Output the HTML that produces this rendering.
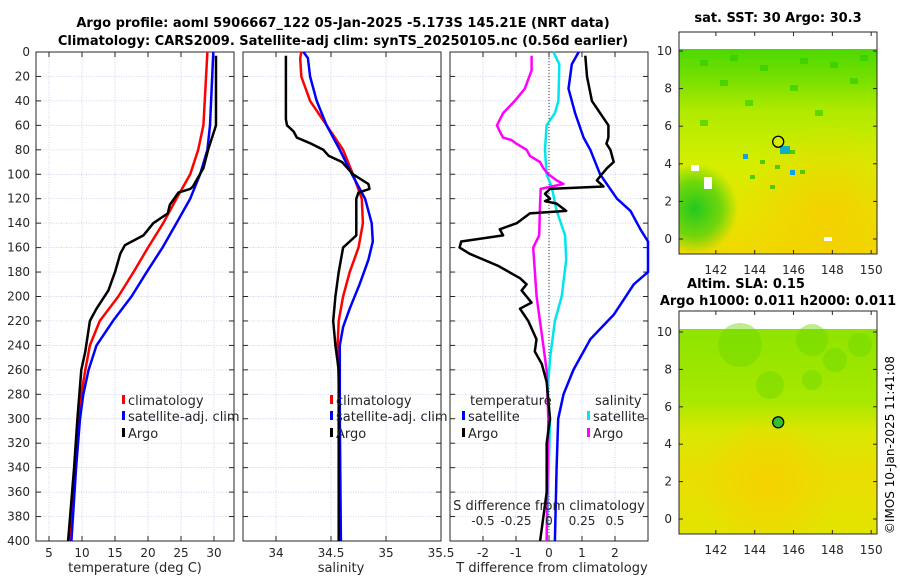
<!DOCTYPE html>
<html><head><meta charset="utf-8">
<style>
html,body{margin:0;padding:0;background:#fff;}
svg{display:block;font-family:"DejaVu Sans","Liberation Sans",sans-serif;}
</style></head>
<body>
<svg id="fig" width="900" height="580" viewBox="0 0 900 580">
<defs>
<linearGradient id="sstGrad" x1="0" y1="0" x2="0" y2="1">
<stop offset="0" stop-color="#4cd800"/><stop offset="0.15" stop-color="#78e000"/><stop offset="0.3" stop-color="#b0ea00"/><stop offset="0.55" stop-color="#d4ee00"/><stop offset="0.8" stop-color="#e8e400"/><stop offset="1" stop-color="#f0d800"/>
</linearGradient>
<radialGradient id="sstWarm" cx="0.75" cy="0.8" r="0.45"><stop offset="0" stop-color="#f8c800" stop-opacity="0.7"/><stop offset="1" stop-color="#f8c800" stop-opacity="0"/></radialGradient>
<radialGradient id="sstCool" cx="0.08" cy="0.78" r="0.22"><stop offset="0" stop-color="#20c820"/><stop offset="0.6" stop-color="#40d010" stop-opacity="0.7"/><stop offset="1" stop-color="#40d010" stop-opacity="0"/></radialGradient>
<linearGradient id="slaGrad" x1="0" y1="0" x2="0" y2="1">
<stop offset="0" stop-color="#8ee400"/><stop offset="0.35" stop-color="#a8e800"/><stop offset="0.5" stop-color="#d8e800"/><stop offset="0.7" stop-color="#eade00"/><stop offset="1" stop-color="#e2e400"/>
</linearGradient>
<radialGradient id="slaWarm" cx="0.45" cy="0.75" r="0.35"><stop offset="0" stop-color="#f6d000" stop-opacity="0.9"/><stop offset="1" stop-color="#f6d000" stop-opacity="0"/></radialGradient>
</defs>
<g id="plots"></g>
</svg>
<script>
// ---------- data ----------
const depthTicks = [0,20,40,60,80,100,120,140,160,180,200,220,240,260,280,300,320,340,360,380,400];
const tempTicks = [5,10,15,20,25,30];
const salTicks = [34,34.5,35,35.5];
const tdiffTicks = [-2,-1,0,1,2];
const sdiffTicks = [-0.5,-0.25,0,0.25,0.5];

const climTempDepth = [0,60,80,100,120,140,160,180,200,220,240,260,280,300,340,400];
const climTemp      = [29.0,28.4,27.6,26.4,24.3,22.3,20.0,17.8,15.5,12.7,11.2,10.5,9.9,9.4,8.9,8.2];
const satTempDepth  = [0,60,80,100,120,140,160,180,200,220,240,260,280,300,340,400];
const satTemp       = [29.9,29.4,29.0,27.9,26.4,24.3,22.2,19.8,17.5,14.7,12.2,11.0,10.2,9.7,9.1,8.4];
const argoTempDepth = [3,60,80,95,110,112,115,125,132,140,150,158,165,180,195,210,220,245,260,300,340,400];
const argoTemp      = [30.3,30.3,29.1,28.4,26.8,26.4,24.6,23.3,23.0,20.8,19.3,16.5,15.8,15.0,14.0,12.2,11.2,10.5,9.9,9.3,8.8,7.9];

const climSalDepth = [0,5,20,40,60,80,100,120,140,160,180,200,220,240,300,400];
const climSal      = [34.23,34.22,34.23,34.31,34.46,34.61,34.70,34.78,34.79,34.75,34.67,34.61,34.57,34.56,34.58,34.58];
const satSalDepth  = [0,5,20,40,60,80,100,120,140,155,170,190,210,225,240,300,400];
const satSal       = [34.25,34.29,34.31,34.37,34.46,34.58,34.69,34.81,34.87,34.88,34.84,34.76,34.67,34.61,34.58,34.58,34.59];
const argoSalDepth = [3,55,60,65,70,75,80,85,90,100,108,112,115,120,150,155,160,180,200,220,240,260,400];
const argoSal      = [34.09,34.09,34.10,34.16,34.19,34.32,34.43,34.48,34.60,34.70,34.84,34.85,34.75,34.73,34.73,34.67,34.61,34.57,34.54,34.52,34.54,34.57,34.57];

const argoTdiffDepth = [3,20,40,50,60,70,75,80,90,95,100,105,110,112,116,120,122,124,130,132,140,145,150,155,160,165,175,185,190,195,205,210,220,235,245,255,270,300,320,360,400];
const argoTdiff      = [1.1,1.15,1.3,1.55,1.8,1.8,1.74,1.86,1.96,1.76,1.6,1.45,1.65,0.03,-0.12,0.03,-0.12,0.23,0.52,-0.58,-0.98,-1.49,-1.39,-2.66,-2.71,-2.41,-1.54,-0.88,-0.68,-0.83,-0.53,-0.88,-0.63,-0.38,-0.43,-0.22,-0.07,0.03,-0.07,-0.07,-0.27];
const satTdiffDepth = [0,10,30,50,70,80,100,120,130,145,155,180,190,215,235,260,280,300,340,400];
const satTdiff      = [0.9,0.69,0.59,0.79,1.05,1.25,1.55,2.06,2.47,2.77,3.05,3.05,2.57,1.96,1.25,0.74,0.44,0.28,0.23,0.18];
const satSdiffDepth = [0,10,40,50,60,80,100,110,130,150,170,200,220,250,280,300,400];
const satSdiff      = [0.033,0.078,0.071,0.045,-0.018,-0.030,-0.018,0.020,0.058,0.122,0.130,0.096,0.045,0.008,-0.012,0.008,-0.018];
const argoSdiffDepth = [3,15,30,40,50,60,65,70,72,75,80,85,90,95,100,105,108,112,115,125,150,160,200,240,260,300,400];
const argoSdiff      = [-0.132,-0.132,-0.183,-0.259,-0.348,-0.394,-0.373,-0.348,-0.285,-0.246,-0.17,-0.145,-0.068,-0.043,-0.005,0.058,0.109,-0.064,-0.064,-0.068,-0.074,-0.12,-0.094,-0.043,-0.018,-0.005,-0.018];

const lonTicks = [142,144,146,148,150];
const latTicks = [0,2,4,6,8,10];
const argoLon = 145.21, argoLat = 5.173;

// ---------- helpers ----------
const NS = "http://www.w3.org/2000/svg";
const root = document.getElementById('plots');
function mk(tag, attrs, parent){ const e=document.createElementNS(NS,tag); for(const k in attrs) e.setAttribute(k,attrs[k]); (parent||root).appendChild(e); return e; }
function txt(s,x,y,opts,parent){ const e=mk('text',Object.assign({x:x,y:y,'font-size':12,fill:'#262626','text-anchor':'middle'},opts||{}),parent); e.textContent=s; return e; }

const PT=52, PB=541;
const yD = d => PT + (PB-PT)*d/400;

function panel(name,x0,x1,xmin,xmax,ticks,fmt){
  const g = mk('g',{});
  
  
  const xs = v => x0 + (x1-x0)*(v-xmin)/(xmax-xmin);
  depthTicks.forEach(d=>{ if(d>0&&d<400) mk('line',{x1:x0,x2:x1,y1:yD(d),y2:yD(d),stroke:'#b8c4e8','stroke-width':0.7,'stroke-dasharray':'1,1.5'},g); });
  ticks.forEach(v=>{ mk('line',{x1:xs(v),x2:xs(v),y1:PT,y2:PB,stroke:'#b8c4e8','stroke-width':0.7,'stroke-dasharray':'1,1.5'},g); });
  depthTicks.forEach(d=>{ mk('line',{x1:x0,x2:x0+5,y1:yD(d),y2:yD(d),stroke:'#262626'},g); mk('line',{x1:x1,x2:x1-5,y1:yD(d),y2:yD(d),stroke:'#262626'},g); });
  ticks.forEach(v=>{ mk('line',{x1:xs(v),x2:xs(v),y1:PB,y2:PB-5,stroke:'#262626'},g); mk('line',{x1:xs(v),x2:xs(v),y1:PT,y2:PT+5,stroke:'#262626'},g);
    const t=txt(fmt(v),xs(v),557,{},g);
    
    
  });
  mk('rect',{x:x0,y:PT,width:x1-x0,height:PB-PT,fill:'none',stroke:'#262626','stroke-width':1},g);
  return {g,xs};
}
function line(p,vals,deps,color,name,w){
  const pts = vals.map((v,i)=>p.xs(v).toFixed(1)+','+yD(deps[i]).toFixed(1)).join(' ');
  const pl = mk('polyline',{points:pts,fill:'none',stroke:color,'stroke-width':w||2.5,'stroke-linejoin':'round'},p.g);
  
  
  return pl;
}
function legendEntry(g,x,y,color,label){
  const e = mk('g',{},g);
  
  
  mk('rect',{x:x,y:y-10,width:3,height:9,fill:color},e);
  txt(label,x+6,y,{'text-anchor':'start','font-size':13},e);
}

depthTicks.forEach(d=>{ const t=txt(String(d),30,yD(d)+4,{'text-anchor':'end'});   });

// panel 1 temperature
const p1 = panel('temperature-panel',36,234,3.03,33.03,tempTicks,v=>String(v));
line(p1,climTemp,climTempDepth,'#ff0000','climatology-temp-line');
line(p1,satTemp,satTempDepth,'#0000ff','satellite-temp-line');
line(p1,argoTemp,argoTempDepth,'#000000','argo-temp-line');
legendEntry(p1.g,122,405,'#ff0000','climatology');
legendEntry(p1.g,122,421,'#0000ff','satellite-adj. clim');
legendEntry(p1.g,122,438,'#000000','Argo');
txt('temperature (deg C)',135,572,{'font-size':13});

// panel 2 salinity
const p2 = panel('salinity-panel',243,441,33.7,35.5,salTicks,v=>String(v));
line(p2,climSal,climSalDepth,'#ff0000','climatology-salinity-line');
line(p2,satSal,satSalDepth,'#0000ff','satellite-salinity-line');
line(p2,argoSal,argoSalDepth,'#000000','argo-salinity-line');
legendEntry(p2.g,330,405,'#ff0000','climatology');
legendEntry(p2.g,330,421,'#0000ff','satellite-adj. clim');
legendEntry(p2.g,330,438,'#000000','Argo');
txt('salinity',341,572,{'font-size':13});

// panel 3 differences
const p3 = panel('difference-panel',450,648,-3,3,tdiffTicks,v=>String(v));
mk('line',{x1:p3.xs(0),x2:p3.xs(0),y1:PT,y2:PB,stroke:'#333','stroke-width':1,'stroke-dasharray':'1,2'},p3.g);
const p3s = {g:p3.g, xs: v=>p3.xs(4*v)};
line(p3s,satSdiff,satSdiffDepth,'#00e5ee','satellite-sdiff-line');
line(p3s,argoSdiff,argoSdiffDepth,'#ff00ff','argo-sdiff-line');
line(p3,satTdiff.map(v=>Math.min(v,3)),satTdiffDepth,'#0000ff','satellite-tdiff-line');
line(p3,argoTdiff,argoTdiffDepth,'#000000','argo-tdiff-line');
txt('temperature',470,405,{'text-anchor':'start','font-size':13});
txt('salinity',595,405,{'text-anchor':'start','font-size':13});
legendEntry(p3.g,462,421,'#0000ff','satellite');
legendEntry(p3.g,462,438,'#000000','Argo');
legendEntry(p3.g,587,421,'#00e5ee','satellite');
legendEntry(p3.g,587,438,'#ff00ff','Argo');
txt('S difference from climatology',549,510,{'font-size':13});
sdiffTicks.forEach(v=>{ const t=txt(String(v),p3s.xs(v),525,{'font-size':12});   });
txt('T difference from climatology',552,572,{'font-size':13});

// titles
txt('Argo profile: aoml 5906667_122 05-Jan-2025 -5.173S 145.21E (NRT data)',343,27,{'font-size':13,'font-weight':'bold',fill:'#000'});
txt('Climatology: CARS2009. Satellite-adj clim: synTS_20250105.nc (0.56d earlier)',343,45,{'font-size':13,'font-weight':'bold',fill:'#000'});

// maps
function map(name,x0,x1,boxTop,dataTop,y10,y0,bottom,fillId,overlay,circleFill){
  const g = mk('g',{});
  
  
  const xs = v => x0 + (x1-x0)*(v-140.1)/(150.3-140.1);
  const ys = v => y0 + (y10-y0)*v/10;
  mk('rect',{x:x0,y:dataTop,width:x1-x0,height:bottom-dataTop,fill:'url(#'+fillId+')'},g);
  overlay(g,x0,x1,dataTop,bottom);
  latTicks.forEach(v=>{ mk('line',{x1:x0,x2:x0+4,y1:ys(v),y2:ys(v),stroke:'#262626'},g); mk('line',{x1:x1,x2:x1-4,y1:ys(v),y2:ys(v),stroke:'#262626'},g); txt(String(v),672,ys(v)+4,{'text-anchor':'end'},g); });
  lonTicks.forEach(v=>{ mk('line',{x1:xs(v),x2:xs(v),y1:bottom,y2:bottom-4,stroke:'#262626'},g); mk('line',{x1:xs(v),x2:xs(v),y1:boxTop,y2:boxTop+4,stroke:'#262626'},g); txt(String(v),xs(v),bottom+20,{},g); });
  mk('rect',{x:x0,y:boxTop,width:x1-x0,height:bottom-boxTop,fill:'none',stroke:'#262626'},g);
  const c = mk('circle',{cx:xs(argoLon),cy:ys(argoLat),r:5.5,fill:circleFill,stroke:'#000','stroke-width':1.3},g);
  
  
}
map('sst-map',679,877,32,49,51,239,254,'sstGrad',(g,x0,x1,t,b)=>{
  mk('rect',{x:x0,y:t,width:x1-x0,height:b-t,fill:'url(#sstWarm)'},g);
  mk('rect',{x:x0,y:t,width:x1-x0,height:b-t,fill:'url(#sstCool)'},g);
  [[700,60],[730,55],[760,65],[800,58],[830,62],[860,55],[720,80],[790,85],[850,78],[745,100],[815,110],[700,120]].forEach(p=>mk('rect',{x:p[0],y:p[1],width:8,height:6,fill:'#28cc00',opacity:0.6},g));
  [[760,160],[775,165],[790,150],[750,175],[800,170],[770,185]].forEach(p=>mk('rect',{x:p[0],y:p[1],width:5,height:4,fill:'#30c000',opacity:0.8},g));
  mk('rect',{x:743,y:154,width:5,height:5,fill:'#10a0f0'},g);
  mk('rect',{x:780,y:146,width:10,height:8,fill:'#10b0c0'},g);
  mk('rect',{x:790,y:170,width:5,height:5,fill:'#10a0f0'},g);
  mk('rect',{x:691,y:165,width:8,height:6,fill:'#fff'},g);
  mk('rect',{x:704,y:177,width:8,height:12,fill:'#fff'},g);
  mk('rect',{x:824,y:237,width:8,height:4,fill:'#fff'},g);
},'#d8ec00');
map('sla-map',679,877,311,329,332,519,534,'slaGrad',(g,x0,x1,t,b)=>{
  mk('rect',{x:x0,y:t,width:x1-x0,height:b-t,fill:'url(#slaWarm)'},g);
  [[740,345,22],[770,385,14],[812,380,10],[835,360,12],[812,340,16],[860,345,12]].forEach(c=>mk('circle',{cx:c[0],cy:c[1],r:c[2],fill:'#6cd800',opacity:0.45},g));
},'#30c030');
txt('sat. SST: 30 Argo: 30.3',778,22,{'font-size':13,'font-weight':'bold',fill:'#000'});
txt('Altim. SLA: 0.15',746,288,{'font-size':13,'font-weight':'bold',fill:'#000'});
txt('Argo h1000: 0.011 h2000: 0.011',778,305,{'font-size':13,'font-weight':'bold',fill:'#000'});
const cr = txt('©IMOS 10-Jan-2025 11:41:08',0,0,{'font-size':12,fill:'#000',transform:'translate(894,445) rotate(-90)'});

</script>
</body></html>
